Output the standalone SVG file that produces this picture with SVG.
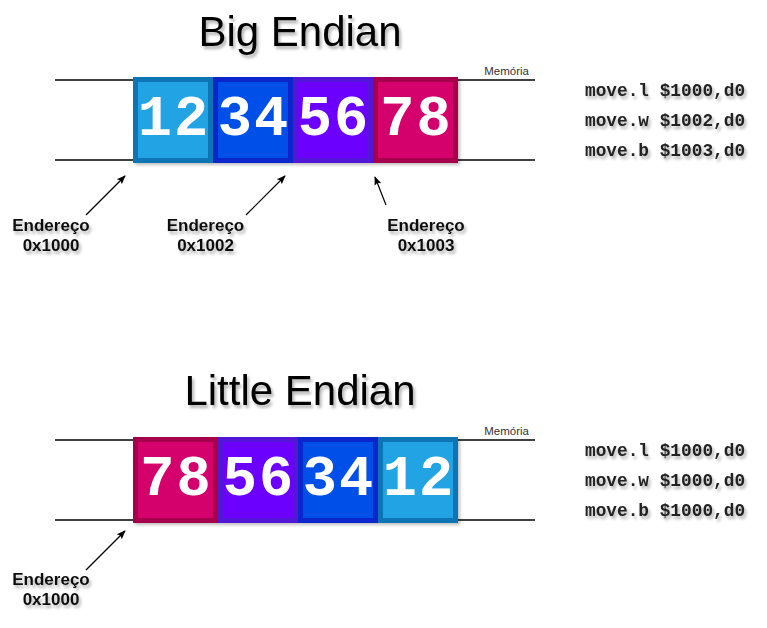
<svg xmlns="http://www.w3.org/2000/svg" width="767" height="628" viewBox="0 0 767 628">
<defs>
<filter id="ts" x="-20%" y="-30%" width="140%" height="170%"><feDropShadow dx="2" dy="3" stdDeviation="1.8" flood-color="#000" flood-opacity="0.3"/></filter>
<filter id="bs" x="-10%" y="-10%" width="125%" height="125%"><feDropShadow dx="2" dy="2" stdDeviation="1.5" flood-color="#000" flood-opacity="0.25"/></filter>
<marker id="ah" viewBox="0 0 10 10" refX="9" refY="5" markerWidth="9" markerHeight="9" markerUnits="userSpaceOnUse" orient="auto"><path d="M0,1 L10,5 L0,9 L2,5 Z" fill="#000"/></marker>
<style>
.title{font-family:"Liberation Sans",Arial,sans-serif;font-size:42px;fill:#000;text-anchor:middle}
.mem{font-family:"Liberation Sans",Arial,sans-serif;font-size:11.5px;fill:#333;text-anchor:end}
.lab{font-family:"Liberation Sans",Arial,sans-serif;font-size:17px;font-weight:bold;fill:#111;text-anchor:middle}
.code{font-family:"Liberation Mono","Courier New",monospace;font-size:17.8px;font-weight:bold;fill:#222}
.dig{font-family:"Liberation Mono","Courier New",monospace;font-size:57px;font-weight:bold;fill:#fff;text-anchor:middle;letter-spacing:2px}
.ln{stroke:#000;stroke-width:1.3}
.arr{stroke:#000;stroke-width:1.2;fill:none;marker-end:url(#ah)}
.b1{fill:#22a3e3;stroke:#0a74b6;stroke-width:5}
.b2{fill:#0050e8;stroke:#0a26cc;stroke-width:5}
.b3{fill:#6c00ff;stroke:#5212d6;stroke-width:5}
.b4{fill:#d4006c;stroke:#a6004e;stroke-width:5}
</style>
</defs>
<rect width="767" height="628" fill="#fff"/>

<g id="big-endian">
<text class="title" x="300" y="46" filter="url(#ts)">Big Endian</text>
<g id="big-memory-lines">
<line class="ln" x1="55" y1="80" x2="535" y2="80"/>
<line class="ln" x1="55" y1="160" x2="535" y2="160"/>
<text class="mem" x="529" y="75">Memória</text>
</g>
<g id="big-byte-12" filter="url(#bs)"><rect class="b1" x="135.5" y="79.5" width="75" height="81"/><text class="dig" x="174" y="135">12</text></g>
<g id="big-byte-34" filter="url(#bs)"><rect class="b2" x="215.5" y="79.5" width="75" height="81"/><text class="dig" x="254" y="135">34</text></g>
<g id="big-byte-56" filter="url(#bs)"><rect class="b3" x="295.5" y="79.5" width="75" height="81"/><text class="dig" x="334" y="135">56</text></g>
<g id="big-byte-78" filter="url(#bs)"><rect class="b4" x="375.5" y="79.5" width="80" height="81"/><text class="dig" x="416.5" y="135">78</text></g>
<g id="big-addr-1000" filter="url(#ts)"><text class="lab" x="51" y="231">Endereço</text><text class="lab" x="51" y="251">0x1000</text></g>
<g id="big-addr-1002" filter="url(#ts)"><text class="lab" x="205.5" y="231">Endereço</text><text class="lab" x="205.5" y="251">0x1002</text></g>
<g id="big-addr-1003" filter="url(#ts)"><text class="lab" x="426" y="231">Endereço</text><text class="lab" x="426" y="251">0x1003</text></g>
<g id="big-code" filter="url(#ts)">
<text class="code" x="585" y="96">move.l $1000,d0</text>
<text class="code" x="585" y="126">move.w $1002,d0</text>
<text class="code" x="585" y="156">move.b $1003,d0</text>
</g>
</g>

<g id="little-endian">
<text class="title" x="300" y="405" filter="url(#ts)">Little Endian</text>
<g id="little-memory-lines">
<line class="ln" x1="55" y1="440" x2="535" y2="440"/>
<line class="ln" x1="55" y1="520" x2="535" y2="520"/>
<text class="mem" x="529" y="435">Memória</text>
</g>
<g id="little-byte-78" filter="url(#bs)"><rect class="b4" x="135.5" y="439.5" width="80" height="81"/><text class="dig" x="176.5" y="495">78</text></g>
<g id="little-byte-56" filter="url(#bs)"><rect class="b3" x="220.5" y="439.5" width="75" height="81"/><text class="dig" x="259" y="495">56</text></g>
<g id="little-byte-34" filter="url(#bs)"><rect class="b2" x="300.5" y="439.5" width="75" height="81"/><text class="dig" x="339" y="495">34</text></g>
<g id="little-byte-12" filter="url(#bs)"><rect class="b1" x="380.5" y="439.5" width="75" height="81"/><text class="dig" x="419" y="495">12</text></g>
<g id="little-addr-1000" filter="url(#ts)"><text class="lab" x="51" y="585">Endereço</text><text class="lab" x="51" y="605">0x1000</text></g>
<g id="little-code" filter="url(#ts)">
<text class="code" x="585" y="456">move.l $1000,d0</text>
<text class="code" x="585" y="486">move.w $1000,d0</text>
<text class="code" x="585" y="516">move.b $1000,d0</text>
</g>
</g>

<g id="connectors">
<line class="arr" x1="86" y1="215" x2="125" y2="176"/>
<line class="arr" x1="246" y1="215" x2="285" y2="176"/>
<line class="arr" x1="386" y1="205" x2="375" y2="177"/>
<line class="arr" x1="86" y1="570" x2="125" y2="531"/>
</g>
</svg>
